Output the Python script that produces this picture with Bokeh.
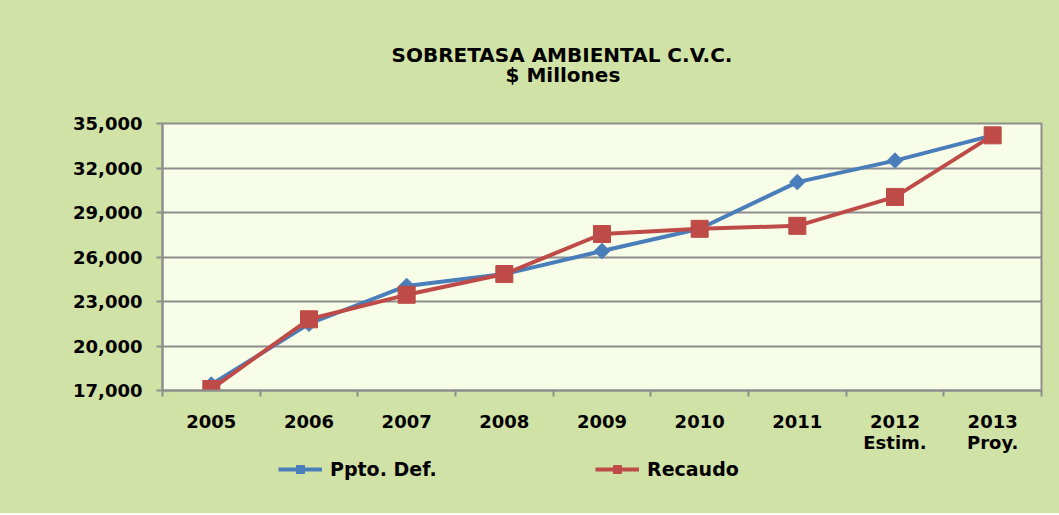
import numpy as np
from bokeh.plotting import figure
from bokeh.layouts import column
from bokeh.models import (Range1d, FixedTicker, NumeralTickFormatter, Legend, LegendItem, Title)
from bokeh.embed import file_html
from bokeh.resources import INLINE

years = ["2005", "2006", "2007", "2008", "2009", "2010", "2011", "2012\nEstim.", "2013\nProy."]
ppto_def = [17400, 21500, 24050, 24850, 26400, 27900, 31050, 32500, 34200]
recaudo = [17100, 21800, 23450, 24850, 27550, 27900, 28100, 30050, 34200]
y_ticks = [17000, 20000, 23000, 26000, 29000, 32000, 35000]
series_names = ["Ppto. Def.", "Recaudo"]

title_line1 = "SOBRETASA AMBIENTAL C.V.C."
title_line2 = "$ Millones"

FONT = "DejaVu Sans"
BG = "#D1E2A6"
GRID = "#8E8E8E"
BLUE = "#4A7EBB"
RED = "#BE4B48"

n = len(years)
xs = [i + 0.5 for i in range(n)]

p = figure(frame_width=879, frame_height=267, output_backend="svg", toolbar_location=None,
           x_range=Range1d(0, n), y_range=Range1d(y_ticks[0], y_ticks[-1]),
           min_border_left=162, min_border_right=18, min_border_top=123, min_border_bottom=64)
p.border_fill_color = BG
p.background_fill_color = "#F8FDE8"
p.outline_line_color = GRID
p.outline_line_width = 2
p.title = None

# axes
p.xaxis.ticker = FixedTicker(ticks=xs, minor_ticks=list(range(n + 1)))
p.xaxis.major_label_overrides = {x: lab for x, lab in zip(xs, years)}
p.xaxis.major_tick_line_color = None
p.xaxis.major_tick_out = 6
p.xaxis.major_tick_in = 0
p.xaxis.minor_tick_line_color = GRID
p.xaxis.minor_tick_line_width = 2
p.xaxis.minor_tick_out = 6
p.xaxis.minor_tick_in = 0
p.xaxis.major_label_standoff = 14
p.xaxis.axis_line_color = GRID
p.xaxis.axis_line_width = 2

p.yaxis.ticker = FixedTicker(ticks=y_ticks)
p.yaxis.formatter = NumeralTickFormatter(format="0,0")
p.yaxis.major_tick_line_color = GRID
p.yaxis.major_tick_line_width = 2
p.yaxis.major_tick_out = 6
p.yaxis.major_tick_in = 0
p.yaxis.minor_tick_line_color = None
p.yaxis.major_label_standoff = 14
p.yaxis.axis_line_color = GRID
p.yaxis.axis_line_width = 2

for ax in (p.xaxis, p.yaxis):
    ax.major_label_text_font = FONT
    ax.major_label_text_font_style = "bold"
    ax.major_label_text_font_size = "18px"
    ax.major_label_text_color = "#000000"
    ax.major_label_text_line_height = 1.0

p.xgrid.grid_line_color = None
p.ygrid.grid_line_color = GRID
p.ygrid.grid_line_width = 2

p.line(xs, ppto_def, line_color=BLUE, line_width=4)
p.scatter(xs, ppto_def, marker="square", angle=np.pi / 4, size=11,
          fill_color=BLUE, line_color=BLUE)
p.line(xs, recaudo, line_color=RED, line_width=4)
p.scatter(xs, recaudo, marker="square", size=17, fill_color=RED, line_color=RED)

t2 = Title(text=title_line2, align="left", offset=343, standoff=74, vertical_align="bottom",
           text_font=FONT, text_font_style="bold", text_font_size="20px", text_color="#000000")
t1 = Title(text=title_line1, align="left", offset=229, standoff=-86, vertical_align="bottom",
           text_font=FONT, text_font_style="bold", text_font_size="20px", text_color="#000000")
p.add_layout(t2, "above")
p.add_layout(t1, "above")

# legend strip below the chart (its own frame, so the legend is not clipped);
# the same series are drawn there but fall outside its ranges, so only the
# legend swatches show
lg = figure(width=1059, height=58, output_backend="svg", toolbar_location=None,
            x_range=Range1d(0, 1), y_range=Range1d(0, 1),
            x_axis_location=None, y_axis_location=None,
            min_border_left=162, min_border_right=18, min_border_top=0, min_border_bottom=0)
lg.border_fill_color = BG
lg.background_fill_color = BG
lg.background_fill_alpha = 0
lg.outline_line_color = None
lg.xgrid.grid_line_color = None
lg.ygrid.grid_line_color = None
lg.title = None
r1 = lg.line(xs, ppto_def, line_color=BLUE, line_width=4)
s1 = lg.scatter(xs, ppto_def, marker="square", angle=np.pi / 4, size=11,
                fill_color=BLUE, line_color=BLUE)
r2 = lg.line(xs, recaudo, line_color=RED, line_width=4)
s2 = lg.scatter(xs, recaudo, marker="square", size=17, fill_color=RED, line_color=RED)

legend = Legend(items=[LegendItem(label=series_names[0], renderers=[r1, s1]),
                       LegendItem(label=series_names[1], renderers=[r2, s2])],
                location=(116, 33), orientation="horizontal",
                glyph_width=44, glyph_height=20, label_standoff=8,
                label_width=265, spacing=0, padding=5, margin=0,
                background_fill_alpha=0, border_line_color=None)
legend.label_text_font = FONT
legend.label_text_font_style = "bold"
legend.label_text_font_size = "19px"
legend.label_text_color = "#000000"
lg.add_layout(legend, "center")

layout = column(p, lg, spacing=0, styles={"background-color": BG})
open("out.html", "w").write(file_html(layout, INLINE))
